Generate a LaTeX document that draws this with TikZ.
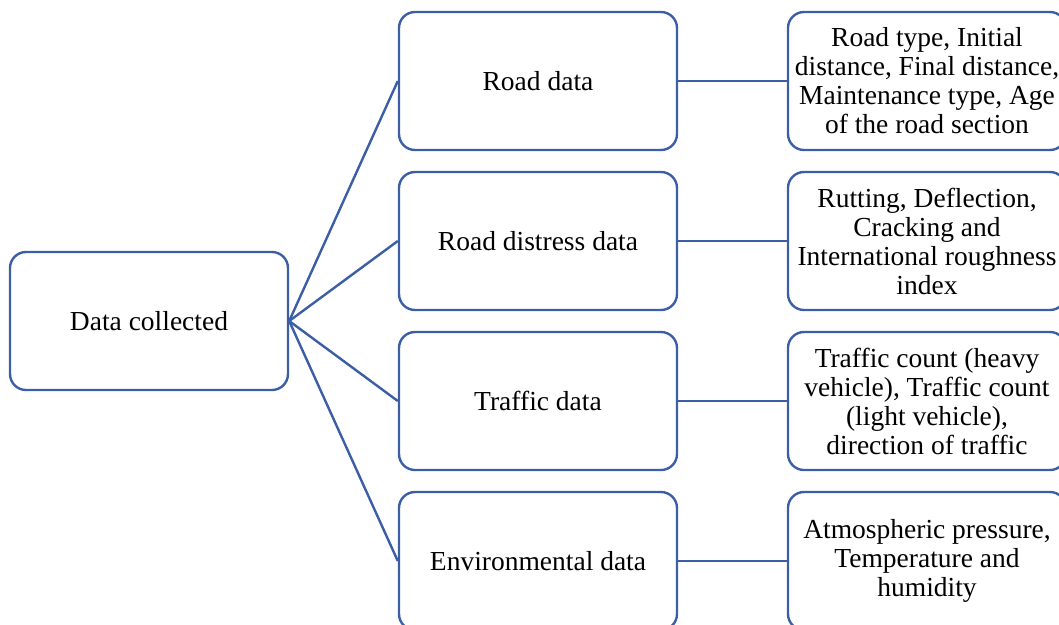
\documentclass[tikz,border=0pt]{standalone}
\usepackage{fontspec}
\setmainfont{Liberation Serif}
\definecolor{boxblue}{RGB}{59,94,166}
\begin{document}
\begin{tikzpicture}[x=1pt,y=-1pt,
  box/.style={draw=boxblue,line width=2.4pt,rounded corners=16pt,minimum width=278pt,minimum height=138pt,inner sep=0pt,align=center,font=\fontsize{27.5}{29}\selectfont},
  link/.style={draw=boxblue,line width=2.4pt}]
\useasboundingbox (0,0) rectangle (1059,624);
\clip (0,0) rectangle (1059,624);
\node[box] (dc) at (149,321) {Data collected};
\node[box] (rd) at (538,81) {Road data};
\node[box] (rdd) at (538,241) {Road distress data};
\node[box] (td) at (538,401) {Traffic data};
\node[box] (ed) at (538,561) {Environmental data};
\node[box] (rdr) at (927,81) {Road type, Initial\\distance, Final distance,\\Maintenance type, Age\\of the road section};
\node[box] (rddr) at (927,241) {Rutting, Deflection,\\Cracking and\\International roughness\\index};
\node[box] (tdr) at (927,401) {Traffic count (heavy\\vehicle), Traffic count\\(light vehicle),\\direction of traffic};
\node[box] (edr) at (927,561) {Atmospheric pressure,\\Temperature and\\humidity};
\foreach \m in {rd,rdd,td,ed} \draw[link] (dc.east) -- (\m.west);
\draw[link] (rd.east) -- (rdr.west);
\draw[link] (rdd.east) -- (rddr.west);
\draw[link] (td.east) -- (tdr.west);
\draw[link] (ed.east) -- (edr.west);
\end{tikzpicture}
\end{document}
